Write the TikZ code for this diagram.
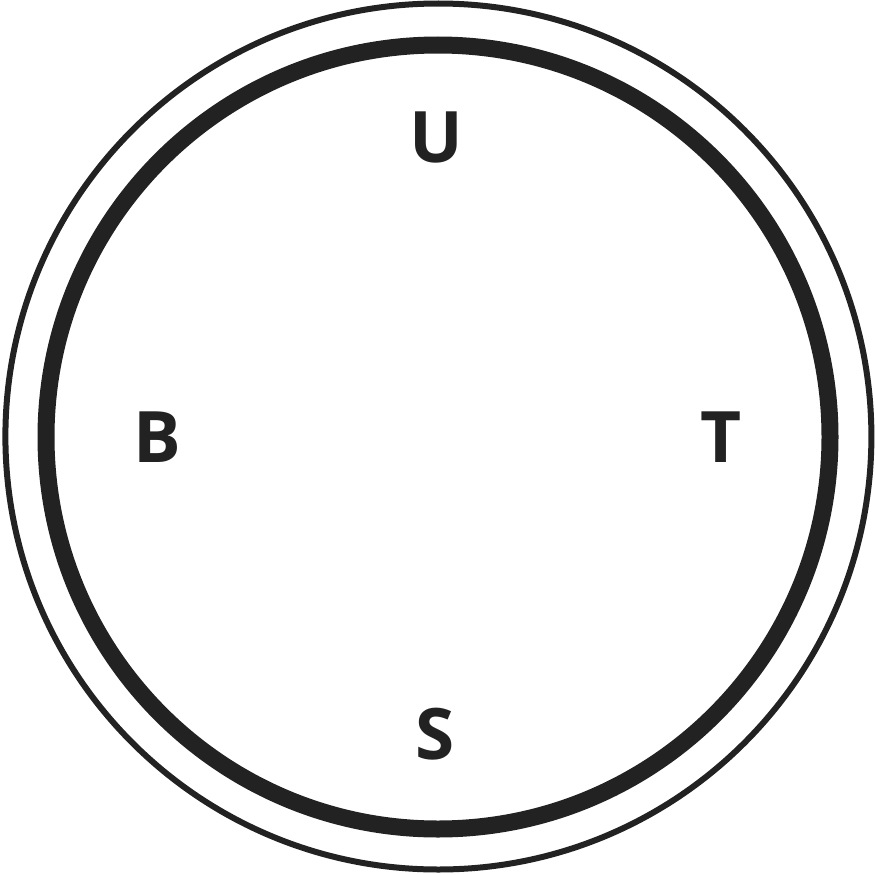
\documentclass[tikz,border=0pt]{standalone}
\usepackage{fontspec}
\setmainfont{Open Sans}
\definecolor{ink}{HTML}{222222}
\begin{document}
\begin{tikzpicture}[x=1pt,y=-1pt,
  lab/.style={font=\fontsize{71}{71}\selectfont\bfseries, text=ink, inner sep=0pt, anchor=center}]
\useasboundingbox (0,0) rectangle (875,875);
\node[draw=ink, line width=6pt, circle, minimum size=866pt, inner sep=0pt] (outer) at (438.4,436.5) {};
\node[draw=ink, line width=17pt, circle, minimum size=784pt, inner sep=0pt] (inner) at (438,437) {};
\node[lab] (u) at (436.5,137.5) {U};
\node[lab] (b) at (157.5,437) {B};
\node[lab] (t) at (721,437) {T};
\node[lab] (s) at (435.5,734) {S};
\end{tikzpicture}
\end{document}
